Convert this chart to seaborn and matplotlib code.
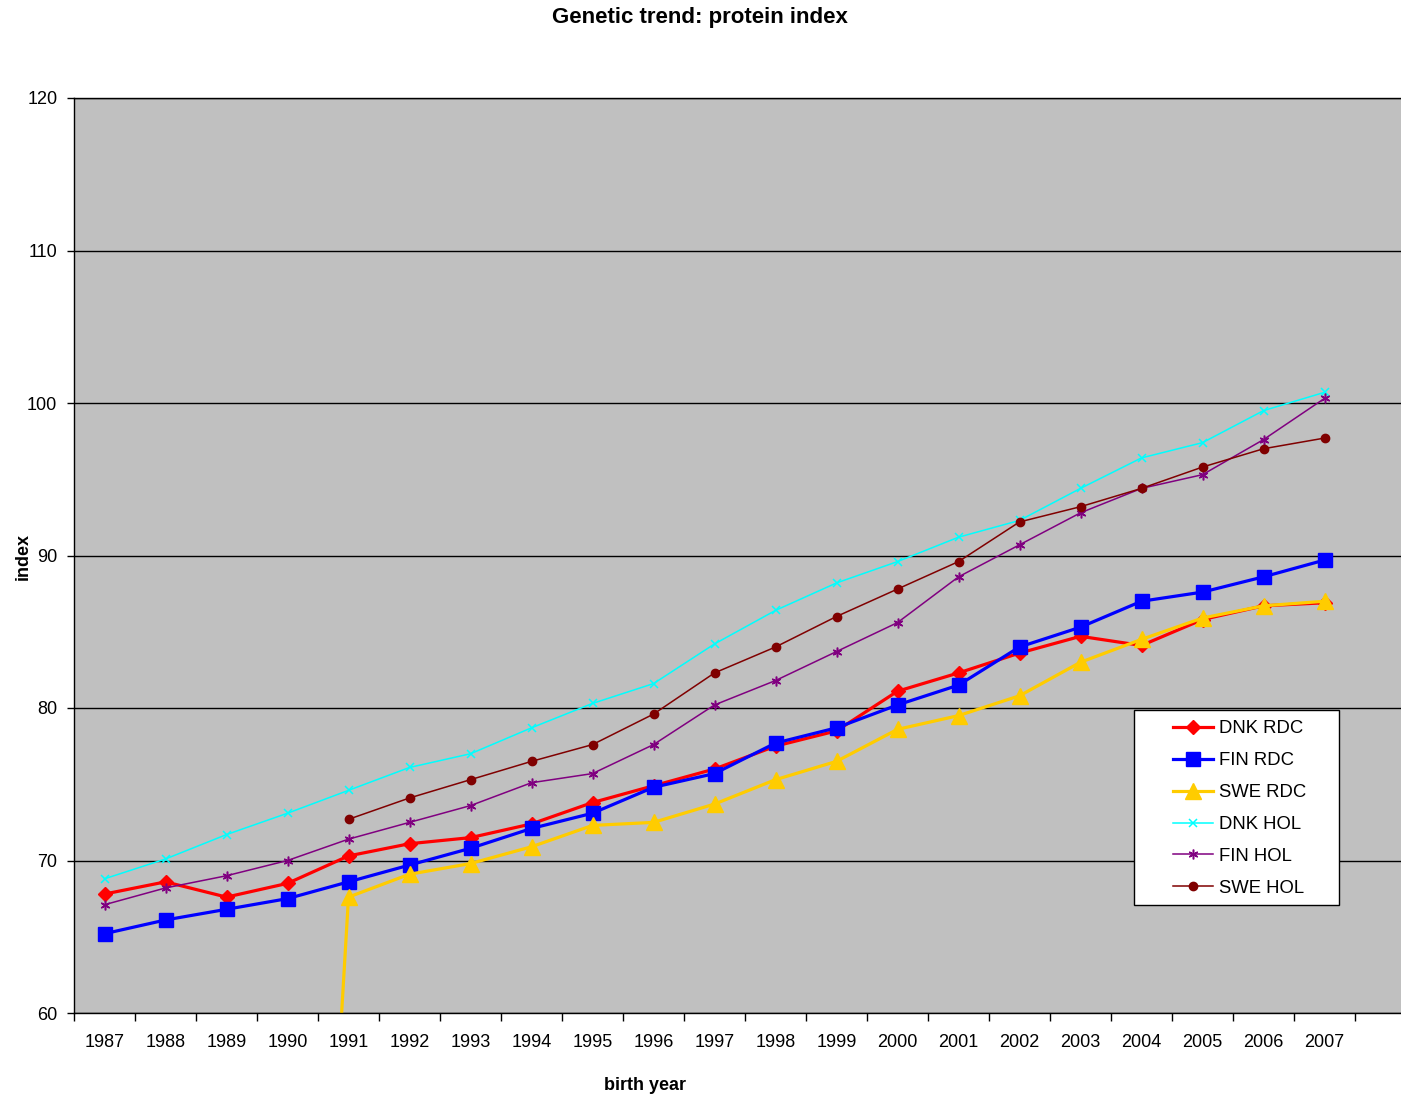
import matplotlib
matplotlib.use("Agg")
import matplotlib.pyplot as plt
import seaborn as sns
import pandas as pd
from matplotlib.patches import Rectangle

# Genetic trend of the protein index by birth year
years = list(range(1987, 2008))
dnk_rdc = [67.8, 68.6, 67.6, 68.5, 70.3, 71.1, 71.5, 72.4, 73.8, 74.9, 76.0,
           77.5, 78.5, 81.1, 82.3, 83.6, 84.7, 84.1, 85.8, 86.7, 86.9]
fin_rdc = [65.2, 66.1, 66.8, 67.5, 68.6, 69.7, 70.8, 72.1, 73.1, 74.8, 75.7,
           77.7, 78.7, 80.2, 81.5, 84.0, 85.3, 87.0, 87.6, 88.6, 89.7]
swe_rdc_years = list(range(1990, 2008))
swe_rdc = [0.0, 67.6, 69.1, 69.8, 70.9, 72.3, 72.5, 73.7, 75.3, 76.5, 78.6,
           79.5, 80.8, 83.0, 84.5, 85.9, 86.7, 87.0]
dnk_hol = [68.8, 70.1, 71.7, 73.1, 74.6, 76.1, 77.0, 78.7, 80.3, 81.6, 84.2,
           86.4, 88.2, 89.6, 91.2, 92.3, 94.4, 96.4, 97.4, 99.5, 100.7]
fin_hol = [67.1, 68.2, 69.0, 70.0, 71.4, 72.5, 73.6, 75.1, 75.7, 77.6, 80.2,
           81.8, 83.7, 85.6, 88.6, 90.7, 92.8, 94.4, 95.3, 97.6, 100.3]
swe_hol_years = list(range(1991, 2008))
swe_hol = [72.7, 74.1, 75.3, 76.5, 77.6, 79.6, 82.3, 84.0, 86.0, 87.8, 89.6,
           92.2, 93.2, 94.4, 95.8, 97.0, 97.7]

plt.rcParams["font.family"] = ["Liberation Sans", "DejaVu Sans"]

fig = plt.figure(figsize=(14.01, 10.95), dpi=100)
ax = fig.add_axes([74 / 1401, 1 - 1013 / 1095, 1327 / 1401, 915 / 1095])
ax.set_facecolor("#C0C0C0")

series = [
    ("DNK RDC", years, dnk_rdc, "#FF0000", "D", 7.5, 2.3, 1.0),
    ("FIN RDC", years, fin_rdc, "#0000FF", "s", 10, 2.3, 1.0),
    ("SWE RDC", swe_rdc_years, swe_rdc, "#FFCC00", "^", 11, 2.3, 1.0),
    ("DNK HOL", years, dnk_hol, "#00FFFF", "x", 5.5, 1.1, 1.1),
    ("FIN HOL", years, fin_hol, "#800080", (6, 2, 0), 7, 1.1, 1.1),
    ("SWE HOL", swe_hol_years, swe_hol, "#800000", "o", 6, 1.1, 1.0),
]

for name, xs, ys, col, mk, ms, lw, mew in series:
    df = pd.DataFrame({"year": xs, "value": ys})
    sns.lineplot(data=df, x="year", y="value", ax=ax, color=col, marker=mk,
                 markersize=ms, linewidth=lw, markeredgecolor=col,
                 markerfacecolor=col, markeredgewidth=mew, label=name,
                 legend=False)

ax.set_xlim(1986.5, 1986.5 + 1327 / 61)
ax.set_ylim(60, 120)

ax.set_xticks(years)
ax.set_xticklabels([str(y) for y in years])
ax.set_xticks([y - 0.5 for y in years] + [2007.5], minor=True)
ax.tick_params(axis="x", which="major", length=0, pad=15, labelsize=13)
ax.tick_params(axis="x", which="minor", length=6, width=1, color="black",
               direction="out")
ax.set_yticks(range(60, 121, 10))
ax.tick_params(axis="y", length=5, width=1, color="black", direction="out",
               labelsize=13, pad=7)

ax.yaxis.grid(True, color="black", linewidth=1.0)
ax.xaxis.grid(False)
ax.set_axisbelow(True)
for side in ["left", "bottom", "top"]:
    ax.spines[side].set_visible(True)
    ax.spines[side].set_color("black")
    ax.spines[side].set_linewidth(1.0)
ax.spines["right"].set_visible(False)

ax.set_xlabel("")
ax.set_ylabel("")

fig.text(700 / 1401, 1 - 18 / 1095, "Genetic trend: protein index",
         ha="center", va="center", fontsize=16, fontweight="bold")
fig.text(645 / 1401, 1 - 1085 / 1095, "birth year", ha="center", va="center",
         fontsize=13, fontweight="bold")
fig.text(23 / 1401, 1 - 556 / 1095, "index", ha="center", va="center",
         fontsize=13, fontweight="bold", rotation=90)

# legend box
box = Rectangle((0.799, 0.118), 0.1545, 0.213, transform=ax.transAxes,
                facecolor="white", edgecolor="black", linewidth=1.0,
                zorder=4, clip_on=False)
ax.add_patch(box)
leg = ax.legend(loc="center left", bbox_to_anchor=(0.828, 0.2235),
                frameon=False, fontsize=13.3, handlelength=2.2,
                handletextpad=0.3, labelspacing=0.81, borderpad=0,
                borderaxespad=0, numpoints=1)
leg.set_zorder(5)

fig.savefig("out.png", dpi=100)
